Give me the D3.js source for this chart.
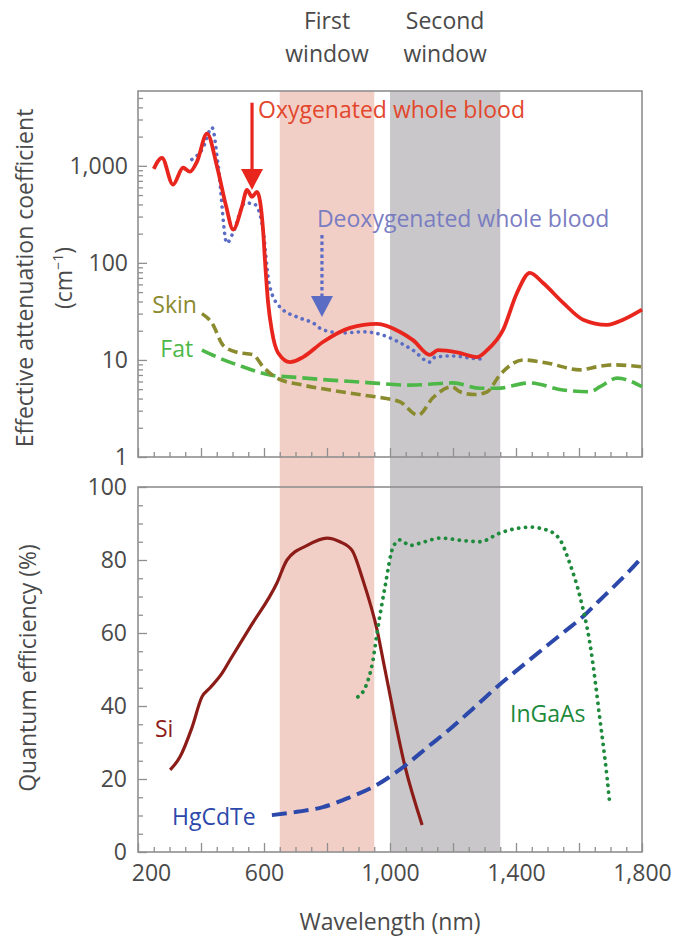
<!DOCTYPE html>
<html><head><meta charset="utf-8">
<script src="https://cdn.jsdelivr.net/npm/d3@7"></script>
<style>body{margin:0;background:#fff}svg{display:block;font-family:"Open Sans",sans-serif}</style>
</head><body><svg id="c" width="675" height="939"></svg>
<script>
// ---------- data ----------
const oxyBlood = [[250,930],[276,1210],[311,640],[343,955],[365,870],[387,1100],[419,2150],[451,980],[480,380],[502,220],[530,380],[546,565],[562,480],[578,540],[597,220],[603,107],[613,39],[625,20],[645,11.8],[683,9.5],[724,10.7],[787,15.3],[873,21.4],[959,23.5],[1032,19.4],[1073,16],[1127,11.3],[1152,12.6],[1213,12],[1276,10.7],[1308,12.6],[1359,20.4],[1403,49],[1444,79],[1486,62],[1549,39],[1613,26],[1689,23],[1740,26],[1800,33]];
const deoxyBlood = [[371,1160],[405,1500],[435,2470],[455,980],[482,160],[502,205],[540,415],[571,400],[597,220],[613,72],[619,56],[651,35],[714,27],[756,24],[787,20.4],[851,19],[914,19.5],[978,18],[1032,15],[1073,12.6],[1127,9.5],[1143,10.7],[1200,11],[1250,10.5],[1290,10.2]];
const skin = [[403,30],[435,24],[470,14.2],[514,12],[565,11.3],[597,8.5],[641,6.5],[724,5.5],[810,4.9],[914,4.35],[978,4.05],[1032,3.7],[1089,2.7],[1137,4.1],[1197,5.3],[1222,4.7],[1270,4.4],[1308,4.7],[1349,7.0],[1422,10],[1498,9.3],[1603,7.9],[1657,8.5],[1708,8.9],[1800,8.5]];
const fat = [[403,12.6],[451,10.7],[533,8.5],[619,7.0],[705,6.6],[810,6.2],[914,5.9],[1063,5.5],[1200,5.8],[1286,5.1],[1340,5.1],[1444,5.8],[1549,4.9],[1635,4.7],[1667,5.3],[1721,6.5],[1800,5.3]];
const si = [[302,22.5],[333,26],[371,34],[403,42.5],[429,45],[467,49],[492,52.6],[556,61.6],[641,73.7],[673,80],[737,84],[800,86],[841,85],[879,82.7],[914,74.5],[959,60.8],[984,50],[1048,23.3],[1102,7.4]];
const hgcdte = [[625,10.1],[705,11],[787,12.3],[873,15],[946,17.8],[1022,22],[1063,24.7],[1120,28.8],[1181,33],[1260,39],[1343,45.5],[1420,51],[1498,56.5],[1560,60.8],[1613,64.5],[1660,68.5],[1708,72.5],[1760,77],[1800,80.8]];
const ingaas = [[898,42.5],[921,45],[946,52.6],[959,60],[984,72.6],[1010,83.6],[1032,85.5],[1063,84],[1110,85],[1159,86],[1244,85.2],[1286,85],[1349,87.4],[1444,89],[1498,88.2],[1540,85.5],[1571,79],[1603,70],[1635,57],[1667,36],[1689,20.5],[1698,12.9]];
const windows = [{name:["First","window"], from:650, to:950},{name:["Second","window"], from:1000, to:1350}];
const xTicks = [200,600,1000,1400,1800];
const xTickLabels = ["200","600","1,000","1,400","1,800"];
const topYTicks = [1,10,100,1000];
const topYLabels = ["1","10","100","1,000"];
const botYTicks = [0,20,40,60,80,100];

// ---------- layout ----------
const svg = d3.select("#c");
const L=138, R=642, T1=91, B1=457, T2=487, B2=852;
const x = d3.scaleLinear().domain([200,1800]).range([L,R]);
const y1 = d3.scaleLog().domain([1,5900]).range([B1,T1]);
const y2 = d3.scaleLinear().domain([0,100]).range([B2,T2]);
const txt="#4a4a4a", frame="#8f8f8f";

// window bands
svg.selectAll("rect.band").data(windows).join("rect")
  .attr("x",d=>x(d.from)).attr("width",d=>x(d.to)-x(d.from))
  .attr("y",T1).attr("height",B2-T1)
  .attr("fill",(d,i)=>i===0?"#f2cfc6":"#c9c7c9");
windows.forEach(w=>{
  w.name.forEach((s,j)=>svg.append("text").attr("x",x((w.from+w.to)/2)).attr("y",29+j*33)
    .attr("text-anchor","middle").attr("font-size",23).attr("fill",txt).text(s));
});

// frames
[[T1,B1],[T2,B2]].forEach(([t,b])=>svg.append("rect").attr("x",L).attr("y",t).attr("width",R-L).attr("height",b-t)
  .attr("fill","none").attr("stroke",frame).attr("stroke-width",1.6));

function styleAxis(g){g.select(".domain").remove();g.selectAll("line").attr("stroke",frame).attr("stroke-width",1.3);
  g.selectAll("text").attr("fill",txt).attr("font-size",23).attr("font-family","'Open Sans',sans-serif");}

// x axes (inward ticks)
const minorX = d3.range(200,1801,50).filter(v=>v%200);
const majorX = d3.range(200,1801,200);
[B1,B2].forEach(b=>{
  svg.append("g").attr("transform",`translate(0,${b})`).call(d3.axisBottom(x).tickValues(minorX).tickSize(-5).tickFormat("")).call(styleAxis);
  svg.append("g").attr("transform",`translate(0,${b})`).call(d3.axisBottom(x).tickValues(majorX).tickSize(-9).tickFormat("")).call(styleAxis);
});
svg.append("g").attr("transform",`translate(0,${B2})`)
  .call(d3.axisBottom(x).tickValues(xTicks).tickSize(0).tickPadding(13).tickFormat((d,i)=>xTickLabels[i])).call(styleAxis)
  .call(g=>g.selectAll(".tick").filter(d=>d===200).select("text").attr("dx",13));

// top y axis (log)
const minorY1=[];[1,10,100,1000].forEach(dec=>{for(let m=2;m<=9;m++){if(dec*m<=5900)minorY1.push(dec*m);}});
svg.append("g").attr("transform",`translate(${L},0)`).call(d3.axisLeft(y1).tickValues(minorY1).tickSize(-5).tickFormat("")).call(styleAxis);
svg.append("g").attr("transform",`translate(${L},0)`).call(d3.axisLeft(y1).tickValues(topYTicks).tickSize(-9).tickPadding(10).tickFormat((d,i)=>topYLabels[i])).call(styleAxis);
// bottom y axis
svg.append("g").attr("transform",`translate(${L},0)`).call(d3.axisLeft(y2).tickValues(d3.range(0,101,5).filter(v=>v%20)).tickSize(-5).tickFormat("")).call(styleAxis);
svg.append("g").attr("transform",`translate(${L},0)`).call(d3.axisLeft(y2).tickValues(botYTicks).tickSize(-9).tickPadding(11)).call(styleAxis);

// axis titles
svg.append("text").attr("transform",`translate(33,278) rotate(-90)`).attr("text-anchor","middle").attr("font-size",23).attr("fill",txt).text("Effective attenuation coefficient");
svg.append("text").attr("transform",`translate(72,278) rotate(-90)`).attr("text-anchor","middle").attr("font-size",23).attr("fill",txt)
  .call(t=>{t.append("tspan").text("(cm");t.append("tspan").attr("font-size",14).attr("dy",-9).text("−1");t.append("tspan").attr("dy",9).text(")");});
svg.append("text").attr("transform",`translate(36,668) rotate(-90)`).attr("text-anchor","middle").attr("font-size",23).attr("fill",txt).text("Quantum efficiency (%)");
svg.append("text").attr("x",(L+R)/2).attr("y",930).attr("text-anchor","middle").attr("font-size",23).attr("fill",txt).text("Wavelength (nm)");

// lines
const curve = d3.curveMonotoneX;
const lineTop = d3.line().x(d=>x(d[0])).y(d=>y1(d[1])).curve(curve);
const lineBot = d3.line().x(d=>x(d[0])).y(d=>y2(d[1])).curve(curve);
function draw(data,gen,color,w,dash,cap){
  svg.append("path").attr("d",gen(data)).attr("fill","none").attr("stroke",color).attr("stroke-width",w)
    .attr("stroke-dasharray",dash||null).attr("stroke-linecap",cap||"butt").attr("stroke-linejoin","round");
}
draw(fat,lineTop,"#4db848",3.6,"15 6");
draw(skin,lineTop,"#8a8a2e",3.6,"10 5");
draw(deoxyBlood,lineTop,"#5b6cc4",3.6,"0.1 6.5","round");
draw(oxyBlood,lineTop,"#e8261e",3.8);
draw(si,lineBot,"#8c1c17",3.2);
draw(hgcdte,lineBot,"#2b48aa",4,"15 7");
draw(ingaas,lineBot,"#1d8a3c",3.8,"0.1 6.8","round");

// arrows
function arrow(wl, v0, v1, color, dashed){
  const xx=x(wl), ya=y1(v0), yb=y1(v1);
  svg.append("line").attr("x1",xx).attr("x2",xx).attr("y1",ya).attr("y2",yb-14).attr("stroke",color).attr("stroke-width",3.2)
    .attr("stroke-dasharray",dashed?"3.5 3":null);
  svg.append("path").attr("d",`M${xx-11},${yb-21} L${xx+11},${yb-21} L${xx},${yb} Z`).attr("fill",color);
}
arrow(562,4470,565,"#e8261e",false);
arrow(784,194,27.7,"#5b6cc4",true);

// labels
function lab(t,xp,yp,color,anchor){svg.append("text").attr("x",xp).attr("y",yp).attr("text-anchor",anchor||"start").attr("font-size",23).attr("fill",color).text(t);}
lab("Oxygenated whole blood",x(581),y1(3100),"#e2472d");
lab("Deoxygenated whole blood",x(768),y1(235),"#7a7dc2");
lab("Skin",x(387),y1(30.5),"#8a8a2e","end");
lab("Fat",x(375),y1(10.7),"#4db848","end");
lab("Si",x(254),y2(31.5),"#8c1c17");
lab("HgCdTe",x(308),y2(7.4),"#2b48aa");
lab("InGaAs",x(1381),y2(35.6),"#1d8a3c");
</script></body></html>
